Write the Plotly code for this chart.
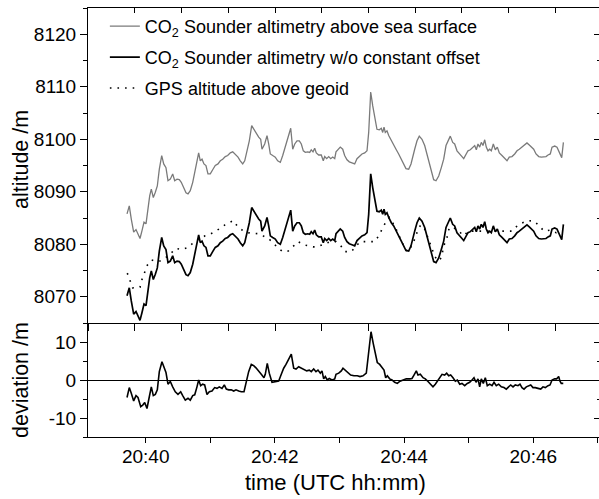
import plotly.graph_objects as go

# ---------------- data (time in minutes after 20:00 UTC) ----------------
SOUNDER_TIME = [
    39.711, 39.746, 39.777, 39.814, 39.850, 39.881, 39.912, 39.943, 39.974, 40.005,
    40.036, 40.062, 40.087, 40.118, 40.149, 40.180, 40.211, 40.248, 40.279, 40.314,
    40.345, 40.381, 40.418, 40.449, 40.485, 40.520, 40.551, 40.588, 40.624, 40.655,
    40.690, 40.728, 40.759, 40.794, 40.820, 40.845, 40.872, 40.902, 40.933, 40.964,
    41.000, 41.037, 41.077, 41.119, 41.155, 41.192, 41.232, 41.269, 41.310, 41.347,
    41.387, 41.429, 41.464, 41.502, 41.533, 41.568, 41.604, 41.641, 41.672, 41.707,
    41.749, 41.780, 41.800, 41.842, 41.878, 41.904, 41.929, 41.966, 42.006, 42.043,
    42.084, 42.121, 42.161, 42.203, 42.245, 42.276, 42.307, 42.342, 42.378, 42.409,
    42.440, 42.471, 42.508, 42.539, 42.563, 42.590, 42.616, 42.641, 42.678, 42.718,
    42.749, 42.771, 42.802, 42.833, 42.864, 42.895, 42.926, 42.946, 42.977, 43.012,
    43.050, 43.080, 43.116, 43.152, 43.193, 43.235, 43.271, 43.307, 43.348, 43.390,
    43.426, 43.452, 43.483, 43.514, 43.545, 43.580, 43.616, 43.647, 43.669, 43.689,
    43.709, 43.735, 43.762, 43.802, 43.839, 43.875, 43.916, 43.957, 43.994, 44.029,
    44.071, 44.107, 44.164, 44.200, 44.235, 44.277, 44.319, 44.354, 44.390, 44.421,
    44.458, 44.494, 44.536, 44.576, 44.613, 44.649, 44.680, 44.715, 44.752, 44.783,
    44.819, 44.854, 44.896, 44.923, 44.958, 44.989, 45.025, 45.062, 45.093, 45.118,
    45.144, 45.170, 45.195, 45.221, 45.248, 45.272, 45.299, 45.325, 45.350, 45.381,
    45.412, 45.443, 45.474, 45.515, 45.557, 45.593, 45.628, 45.670, 45.712, 45.748,
    45.783, 45.825, 45.867, 45.902, 45.938, 45.969, 46.006, 46.042, 46.084, 46.124,
    46.161, 46.197, 46.228, 46.263, 46.290, 46.331, 46.367, 46.393, 46.418, 46.440,
    46.466,
]

SOUNDER_SEA_SURFACE = [
    8085.8, 8087.3, 8084.8, 8082.3, 8082.8, 8082.1, 8081.1, 8082.6, 8084.2, 8083.9,
    8087.0, 8089.2, 8090.5, 8088.9, 8089.9, 8091.1, 8094.3, 8096.9, 8095.3, 8094.6,
    8092.1, 8092.4, 8093.4, 8092.1, 8092.4, 8092.3, 8091.8, 8090.8, 8089.8, 8089.6,
    8090.2, 8091.8, 8093.7, 8095.3, 8097.4, 8095.9, 8096.2, 8095.3, 8095.0, 8093.4,
    8093.4, 8094.2, 8095.0, 8095.3, 8095.9, 8096.2, 8096.7, 8096.9, 8097.4, 8097.6,
    8097.2, 8096.6, 8095.9, 8095.3, 8095.9, 8097.8, 8099.7, 8102.6, 8101.9, 8101.4,
    8100.4, 8100.0, 8098.1, 8099.1, 8100.7, 8099.1, 8097.2, 8096.9, 8096.6, 8095.9,
    8095.6, 8096.9, 8098.5, 8100.0, 8102.1, 8098.1, 8099.1, 8099.7, 8099.7, 8099.1,
    8097.8, 8097.5, 8097.6, 8097.5, 8098.0, 8097.6, 8098.3, 8097.4, 8097.0, 8097.0,
    8095.9, 8096.7, 8096.3, 8096.7, 8096.3, 8096.6, 8096.3, 8097.6, 8098.0, 8098.5,
    8098.1, 8096.9, 8096.1, 8095.7, 8095.5, 8095.3, 8096.3, 8096.7, 8097.2, 8097.4,
    8097.8, 8101.3, 8109.0, 8106.4, 8103.9, 8101.9, 8101.8, 8102.1, 8101.3, 8102.3,
    8101.3, 8101.6, 8100.7, 8099.7, 8099.1, 8098.1, 8097.2, 8096.2, 8095.1, 8094.4,
    8094.3, 8095.3, 8098.1, 8099.7, 8100.6, 8100.0, 8098.8, 8097.2, 8095.3, 8093.7,
    8092.3, 8092.1, 8093.0, 8094.6, 8096.2, 8098.8, 8099.7, 8100.6, 8099.4, 8099.1,
    8097.8, 8097.2, 8096.7, 8096.3, 8097.2, 8097.8, 8098.0, 8098.5, 8098.8, 8098.0,
    8099.1, 8098.5, 8099.4, 8098.8, 8099.9, 8098.5, 8097.8, 8098.1, 8097.8, 8099.1,
    8098.0, 8098.5, 8097.4, 8096.9, 8096.3, 8095.9, 8096.6, 8096.7, 8097.2, 8097.8,
    8098.1, 8098.5, 8098.8, 8099.3, 8098.9, 8098.5, 8098.1, 8097.2, 8096.7, 8096.6,
    8096.6, 8096.7, 8097.0, 8097.2, 8098.5, 8098.7, 8098.5, 8097.8, 8097.2, 8096.5,
    8099.4,
]

SOUNDER_NO_OFFSET = [
    8070.2, 8071.7, 8069.2, 8066.7, 8067.2, 8066.5, 8065.5, 8067.0, 8068.6, 8068.3,
    8071.4, 8073.6, 8074.9, 8073.3, 8074.3, 8075.5, 8078.7, 8081.3, 8079.7, 8079.0,
    8076.5, 8076.8, 8077.8, 8076.5, 8076.8, 8076.7, 8076.2, 8075.2, 8074.2, 8074.0,
    8074.6, 8076.2, 8078.1, 8079.7, 8081.8, 8080.3, 8080.6, 8079.7, 8079.4, 8077.8,
    8077.8, 8078.6, 8079.4, 8079.7, 8080.3, 8080.6, 8081.1, 8081.3, 8081.8, 8082.0,
    8081.6, 8081.0, 8080.3, 8079.7, 8080.3, 8082.2, 8084.1, 8087.0, 8086.3, 8085.8,
    8084.8, 8084.4, 8082.5, 8083.5, 8085.1, 8083.5, 8081.6, 8081.3, 8081.0, 8080.3,
    8080.0, 8081.3, 8082.9, 8084.4, 8086.5, 8082.5, 8083.5, 8084.1, 8084.1, 8083.5,
    8082.2, 8081.9, 8082.0, 8081.9, 8082.4, 8082.0, 8082.7, 8081.8, 8081.4, 8081.4,
    8080.3, 8081.1, 8080.7, 8081.1, 8080.7, 8081.0, 8080.7, 8082.0, 8082.4, 8082.9,
    8082.5, 8081.3, 8080.5, 8080.1, 8079.9, 8079.7, 8080.7, 8081.1, 8081.6, 8081.8,
    8082.2, 8085.7, 8093.4, 8090.8, 8088.3, 8086.3, 8086.2, 8086.5, 8085.7, 8086.7,
    8085.7, 8086.0, 8085.1, 8084.1, 8083.5, 8082.5, 8081.6, 8080.6, 8079.5, 8078.8,
    8078.7, 8079.7, 8082.5, 8084.1, 8085.0, 8084.4, 8083.2, 8081.6, 8079.7, 8078.1,
    8076.7, 8076.5, 8077.4, 8079.0, 8080.6, 8083.2, 8084.1, 8085.0, 8083.8, 8083.5,
    8082.2, 8081.6, 8081.1, 8080.7, 8081.6, 8082.2, 8082.4, 8082.9, 8083.2, 8082.4,
    8083.5, 8082.9, 8083.8, 8083.2, 8084.3, 8082.9, 8082.2, 8082.5, 8082.2, 8083.5,
    8082.4, 8082.9, 8081.8, 8081.3, 8080.7, 8080.3, 8081.0, 8081.1, 8081.6, 8082.2,
    8082.5, 8082.9, 8083.2, 8083.7, 8083.3, 8082.9, 8082.5, 8081.6, 8081.1, 8081.0,
    8081.0, 8081.1, 8081.4, 8081.6, 8082.9, 8083.1, 8082.9, 8082.2, 8081.6, 8080.9,
    8083.8,
]

GPS_TIME = [
    39.715, 39.757, 39.799, 39.861, 39.912, 39.943, 39.985, 40.025, 40.090, 40.144,
    40.221, 40.314, 40.392, 40.469, 40.557, 40.635, 40.686, 40.763, 40.841, 40.918,
    40.995, 41.073, 41.150, 41.228, 41.289, 41.356, 41.433, 41.506, 41.588, 41.661,
    41.743, 41.816, 41.898, 41.975, 42.037, 42.121, 42.207, 42.291, 42.358, 42.446,
    42.517, 42.590, 42.652, 42.755, 42.858, 42.946, 43.015, 43.080, 43.183, 43.245,
    43.322, 43.426, 43.545, 43.607, 43.663, 43.715, 43.771, 43.848, 43.901, 43.960,
    44.019, 44.071, 44.122, 44.169, 44.220, 44.262, 44.316, 44.375, 44.427, 44.478,
    44.533, 44.579, 44.613, 44.659, 44.700, 44.788, 44.845, 44.923, 44.994, 45.082,
    45.175, 45.268, 45.376, 45.469, 45.562, 45.666, 45.751, 45.836, 45.921, 46.015,
    46.093, 46.166, 46.259, 46.356, 46.429,
]

GPS_ALTITUDE = [
    8074.5, 8073.2, 8071.7, 8071.8, 8071.8, 8073.3, 8074.6, 8076.0, 8077.0, 8076.8,
    8076.8, 8077.5, 8078.3, 8079.2, 8079.0, 8079.3, 8079.7, 8080.6, 8081.1, 8081.6,
    8081.9, 8082.4, 8083.0, 8083.7, 8084.1, 8084.5, 8083.2, 8082.6, 8082.2, 8082.1,
    8082.0, 8081.6, 8081.1, 8080.3, 8079.4, 8078.6, 8078.7, 8079.7, 8080.5, 8079.9,
    8079.7, 8079.5, 8079.5, 8080.0, 8080.5, 8080.5, 8079.8, 8078.6, 8078.6, 8079.5,
    8080.5, 8080.5, 8080.5, 8081.6, 8082.9, 8084.2, 8085.1, 8083.6, 8082.2, 8080.5,
    8079.0, 8078.6, 8079.8, 8081.1, 8083.0, 8083.7, 8083.0, 8081.0, 8079.3, 8077.6,
    8076.8, 8077.5, 8079.7, 8081.0, 8083.2, 8083.0, 8082.5, 8081.6, 8082.5, 8082.5,
    8082.6, 8082.6, 8082.5, 8082.6, 8082.6, 8082.5, 8083.5, 8084.1, 8084.5, 8084.4,
    8083.5, 8082.5, 8082.7, 8082.2, 8082.5,
]

DEVIATION_TIME = [
    39.711, 39.746, 39.777, 39.814, 39.850, 39.881, 39.923, 39.954, 39.985, 40.020,
    40.056, 40.087, 40.118, 40.149, 40.180, 40.211, 40.252, 40.283, 40.314, 40.345,
    40.381, 40.418, 40.458, 40.500, 40.542, 40.573, 40.613, 40.655, 40.690, 40.728,
    40.759, 40.794, 40.820, 40.851, 40.882, 40.913, 40.949, 40.985, 41.026, 41.068,
    41.104, 41.139, 41.181, 41.217, 41.248, 41.285, 41.325, 41.362, 41.398, 41.440,
    41.480, 41.522, 41.557, 41.594, 41.635, 41.672, 41.707, 41.749, 41.789, 41.831,
    41.851, 41.882, 41.913, 41.955, 42.006, 42.059, 42.099, 42.136, 42.172, 42.214,
    42.254, 42.291, 42.327, 42.368, 42.409, 42.450, 42.492, 42.533, 42.563, 42.601,
    42.636, 42.667, 42.703, 42.729, 42.755, 42.780, 42.811, 42.842, 42.884, 42.926,
    42.946, 42.988, 43.028, 43.054, 43.090, 43.132, 43.173, 43.224, 43.276, 43.317,
    43.364, 43.415, 43.452, 43.488, 43.523, 43.554, 43.585, 43.622, 43.658, 43.689,
    43.715, 43.740, 43.777, 43.813, 43.854, 43.895, 43.937, 43.983, 44.034, 44.087,
    44.122, 44.153, 44.189, 44.215, 44.251, 44.293, 44.328, 44.370, 44.412, 44.447,
    44.483, 44.514, 44.551, 44.587, 44.628, 44.659, 44.690, 44.721, 44.757, 44.793,
    44.824, 44.861, 44.896, 44.938, 44.978, 45.015, 45.051, 45.082, 45.113, 45.144,
    45.170, 45.195, 45.226, 45.257, 45.288, 45.325, 45.361, 45.392, 45.427, 45.464,
    45.505, 45.546, 45.582, 45.619, 45.650, 45.686, 45.721, 45.763, 45.794, 45.825,
    45.856, 45.892, 45.929, 45.960, 45.995, 46.031, 46.073, 46.115, 46.150, 46.186,
    46.228, 46.259, 46.290, 46.331, 46.362, 46.393, 46.413, 46.433, 46.464,
]

DEVIATION = [
    -4.6, -2.0, -3.5, -5.5, -4.1, -4.6, -7.0, -6.6, -5.9, -7.5,
    -4.4, -1.8, -4.1, -3.8, -2.6, 2.2, 4.8, 3.1, 2.0, -1.1,
    -0.4, -1.8, -3.1, -3.8, -3.1, -4.1, -5.3, -4.8, -5.3, -4.1,
    -3.9, -1.8, 0.0, -1.5, -1.1, -1.3, -3.8, -3.1, -2.9, -2.0,
    -2.2, -1.8, -2.2, -1.3, -2.4, -2.6, -2.6, -2.9, -2.6, -2.9,
    -3.1, -3.1, -0.4, 2.2, 4.1, 3.8, 3.2, 2.2, 1.5, 0.6,
    1.5, 4.4, 1.8, -0.6, -0.4, -0.3, 1.5, 3.1, 4.1, 5.7,
    6.8, 3.1, 2.9, 3.5, 3.1, 2.6, 2.4, 2.6, 2.2, 2.9,
    2.2, 2.6, 1.8, 2.4, 0.3, 0.9, 0.0, 0.4, 0.0, 0.3,
    1.5, 1.8, 2.4, 3.1, 2.6, 1.8, 1.3, 1.1, 1.1, 0.9,
    1.1, 1.8, 7.5, 12.7, 9.6, 6.8, 4.6, 4.1, 3.2, 2.6,
    0.6, 1.1, 0.3, 0.0, -0.6, -0.9, -0.3, 0.0, 0.3, 0.3,
    0.4, 1.3, 2.4, 1.3, 1.5, 0.6, 0.3, -0.4, -1.1, -1.8,
    -1.1, -0.3, 0.9, 1.5, 1.3, 1.8, 1.1, 1.3, 0.6, -0.3,
    0.0, -1.1, -0.9, -1.5, -0.9, -0.6, 0.0, 0.6, -0.6, 0.3,
    -1.8, 0.3, -0.9, 0.6, -1.5, -1.1, -1.5, -0.6, -1.5, -1.1,
    -1.8, -2.0, -2.4, -1.8, -1.3, -1.8, -1.3, -1.5, -1.1, -2.0,
    -2.4, -1.8, -1.5, -1.3, -2.0, -2.0, -2.2, -2.4, -1.8, -2.0,
    -1.5, -1.3, 0.0, 0.3, 0.3, 0.9, -0.3, -0.9, -0.9,
]

SERIES_NAMES = [
    "CO<sub>2</sub> Sounder altimetry above sea surface",
    "CO<sub>2</sub> Sounder altimetry w/o constant offset",
    "GPS altitude above geoid",
]

X_TICK_VALS = [40, 42, 44, 46]
X_TICK_TEXT = ["20:40", "20:42", "20:44", "20:46"]
X_MINOR_TICK_VALS = [41, 43, 45, 47]
ALT_TICK_VALS = [8070, 8080, 8090, 8100, 8110, 8120]
DEV_TICK_VALS = [-10, 0, 10]
DEV_TICK_TEXT = ["-10", "0", "10"]

# ---------------- styling ----------------
FONT = "Liberation Sans, Arial, Helvetica, sans-serif"
X_RANGE = [39.107, 47.017]
ALT_RANGE = [8065, 8125]
DEV_RANGE = [-15, 15]
SPLIT = 0.2657
TOP_TICK0 = 39.8344
TOP_DTICK = 0.72245

fig = go.Figure()

fig.add_trace(go.Scatter(x=SOUNDER_TIME, y=SOUNDER_SEA_SURFACE, name=SERIES_NAMES[0],
                         legendgroup="a", mode="lines",
                         line=dict(color="#7a7a7a", width=1.3),
                         xaxis="x", yaxis="y"))
fig.add_trace(go.Scatter(x=SOUNDER_TIME, y=SOUNDER_NO_OFFSET, name=SERIES_NAMES[1],
                         legendgroup="b", mode="lines",
                         line=dict(color="black", width=1.7),
                         xaxis="x", yaxis="y"))
fig.add_trace(go.Scatter(x=GPS_TIME, y=GPS_ALTITUDE, name=SERIES_NAMES[2],
                         legendgroup="c", mode="lines",
                         line=dict(color="black", width=1.6, dash="1.6px,6px"),
                         xaxis="x", yaxis="y"))
fig.add_trace(go.Scatter(x=DEVIATION_TIME, y=DEVIATION, mode="lines", showlegend=False,
                         line=dict(color="black", width=1.6), xaxis="x2", yaxis="y2"))

# empty traces that activate the mirror (overlay) axes
for xa, ya in (("x3", "y"), ("x", "y3"), ("x2", "y4")):
    fig.add_trace(go.Scatter(x=[], y=[], xaxis=xa, yaxis=ya, showlegend=False,
                             hoverinfo="skip"))

axis_common = dict(showgrid=False, linecolor="black", linewidth=1.2,
                   tickcolor="black", tickwidth=1.1,
                   tickfont=dict(family=FONT, size=19, color="black"))

fig.update_layout(
    width=599, height=499,
    margin=dict(l=88, r=0, t=8, b=62, pad=0),
    paper_bgcolor="white", plot_bgcolor="white",
    font=dict(family=FONT, color="black"),
    showlegend=True,
    legend=dict(x=0.033, y=1.0, xanchor="left", yanchor="top",
                bgcolor="rgba(0,0,0,0)", borderwidth=0,
                font=dict(family=FONT, size=18, color="black"),
                traceorder="grouped", tracegroupgap=4.5),
    xaxis=dict(domain=[0, 1], anchor="y", range=X_RANGE, tickmode="linear",
               tick0=TOP_TICK0, dtick=TOP_DTICK, ticks="outside", ticklen=7,
               showticklabels=False, showline=True, zeroline=False, **axis_common),
    xaxis3=dict(overlaying="x", side="top", anchor="y", range=X_RANGE, tickmode="linear",
                tick0=TOP_TICK0, dtick=TOP_DTICK, ticks="inside", ticklen=4.5,
                showticklabels=False, showline=True, zeroline=False, **axis_common),
    yaxis=dict(domain=[SPLIT, 1], anchor="x", range=ALT_RANGE, tickmode="array",
               tickvals=ALT_TICK_VALS, ticks="outside", ticklen=7, showline=True,
               zeroline=False,
               minor=dict(dtick=5, tick0=8065, ticks="outside", ticklen=4,
                          tickcolor="black", tickwidth=1.1),
               **axis_common),
    yaxis3=dict(overlaying="y", side="right", anchor="x", range=ALT_RANGE,
                tickmode="array", tickvals=ALT_TICK_VALS, ticks="inside", ticklen=5,
                showticklabels=False, showline=False, zeroline=False,
                minor=dict(dtick=5, tick0=8065, ticks="inside", ticklen=2.5,
                           tickcolor="black", tickwidth=1.1),
                **axis_common),
    xaxis2=dict(domain=[0, 1], anchor="y2", range=X_RANGE, tickmode="array",
                tickvals=X_TICK_VALS, ticktext=X_TICK_TEXT, ticks="outside", ticklen=5,
                ticklabelstandoff=-3,
                minor=dict(tickmode="array", tickvals=X_MINOR_TICK_VALS, ticks="outside",
                           ticklen=5, tickcolor="black", tickwidth=1.1),
                showline=True, zeroline=False, **axis_common),
    yaxis2=dict(domain=[0, SPLIT], anchor="x2", range=DEV_RANGE, tickmode="array",
                tickvals=DEV_TICK_VALS, ticktext=DEV_TICK_TEXT, ticks="outside", ticklen=7,
                showline=True,
                minor=dict(dtick=5, tick0=-15, ticks="outside", ticklen=4,
                           tickcolor="black", tickwidth=1.1),
                zeroline=True, zerolinecolor="black", zerolinewidth=1,
                **axis_common),
    yaxis4=dict(overlaying="y2", side="right", anchor="x2", range=DEV_RANGE,
                tickmode="array", tickvals=DEV_TICK_VALS, ticks="inside", ticklen=5,
                showticklabels=False, showline=False, zeroline=False,
                minor=dict(dtick=5, tick0=-15, ticks="inside", ticklen=2.5,
                           tickcolor="black", tickwidth=1.1),
                **axis_common),
    annotations=[
        dict(text="altitude /m", xref="paper", yref="paper", x=-0.1311, y=0.6457,
             textangle=-90, showarrow=False, xanchor="center", yanchor="middle",
             font=dict(family=FONT, size=21.5, color="black")),
        dict(text="deviation /m", xref="paper", yref="paper", x=-0.1311, y=0.1329,
             textangle=-90, showarrow=False, xanchor="center", yanchor="middle",
             font=dict(family=FONT, size=21.5, color="black")),
        dict(text="time (UTC hh:mm)", xref="paper", yref="paper", x=0.4834, y=-0.107,
             showarrow=False, xanchor="center", yanchor="middle",
             font=dict(family=FONT, size=22, color="black")),
    ],
)

fig.write_html("out.html", config={"displayModeBar": False})
